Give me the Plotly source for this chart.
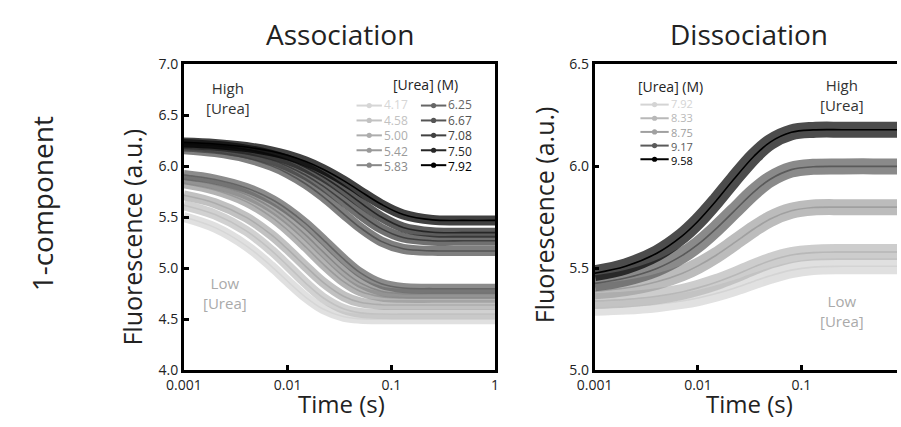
import plotly.graph_objects as go

# ---------------- data ----------------
time_s = [0.001, 0.002, 0.004, 0.007, 0.01, 0.015, 0.022, 0.035, 0.05, 0.08, 0.13, 0.25, 0.5, 1.0]

assoc_urea = ["4.17", "4.58", "5.00", "5.42", "5.83", "6.25", "6.67", "7.08", "7.50", "7.92"]
assoc_4_17 = [5.503, 5.399, 5.221, 5.019, 4.873, 4.715, 4.600, 4.524, 4.505, 4.50, 4.50, 4.50, 4.50, 4.50]
assoc_4_58 = [5.619, 5.527, 5.367, 5.174, 5.026, 4.853, 4.711, 4.600, 4.563, 4.551, 4.55, 4.55, 4.55, 4.55]
assoc_5_00 = [5.716, 5.639, 5.500, 5.327, 5.188, 5.017, 4.863, 4.724, 4.667, 4.643, 4.64, 4.64, 4.64, 4.64]
assoc_5_42 = [5.833, 5.769, 5.654, 5.503, 5.376, 5.209, 5.042, 4.866, 4.775, 4.722, 4.711, 4.71, 4.71, 4.71]
assoc_5_83 = [5.875, 5.821, 5.724, 5.594, 5.480, 5.325, 5.161, 4.969, 4.857, 4.775, 4.752, 4.75, 4.75, 4.75]
assoc_6_25 = [5.915, 5.871, 5.788, 5.677, 5.577, 5.437, 5.281, 5.087, 4.957, 4.848, 4.806, 4.80, 4.80, 4.80]
assoc_6_67 = [6.169, 6.140, 6.084, 6.005, 5.933, 5.827, 5.703, 5.530, 5.400, 5.264, 5.191, 5.171, 5.17, 5.17]
assoc_7_08 = [6.195, 6.172, 6.126, 6.062, 6.002, 5.913, 5.806, 5.653, 5.529, 5.389, 5.302, 5.271, 5.27, 5.27]
assoc_7_50 = [6.220, 6.202, 6.165, 6.113, 6.065, 5.990, 5.898, 5.762, 5.646, 5.503, 5.401, 5.354, 5.35, 5.35]
assoc_7_92 = [6.234, 6.220, 6.190, 6.148, 6.109, 6.048, 5.972, 5.858, 5.757, 5.628, 5.528, 5.475, 5.47, 5.47]
assoc_series = [assoc_4_17, assoc_4_58, assoc_5_00, assoc_5_42, assoc_5_83,
                assoc_6_25, assoc_6_67, assoc_7_08, assoc_7_50, assoc_7_92]

dissoc_urea = ["7.92", "8.33", "8.75", "9.17", "9.58"]
dissoc_7_92 = [5.306, 5.312, 5.324, 5.340, 5.354, 5.376, 5.401, 5.437, 5.463, 5.491, 5.506, 5.51, 5.51, 5.51]
dissoc_8_33 = [5.339, 5.347, 5.363, 5.384, 5.404, 5.432, 5.464, 5.507, 5.537, 5.565, 5.577, 5.58, 5.58, 5.58]
dissoc_8_75 = [5.387, 5.403, 5.434, 5.475, 5.512, 5.564, 5.622, 5.694, 5.742, 5.782, 5.798, 5.80, 5.80, 5.80]
dissoc_9_17 = [5.426, 5.452, 5.499, 5.562, 5.617, 5.695, 5.777, 5.876, 5.937, 5.984, 5.998, 6.00, 6.00, 6.00]
dissoc_9_58 = [5.476, 5.510, 5.574, 5.658, 5.731, 5.831, 5.934, 6.051, 6.119, 6.167, 6.179, 6.18, 6.18, 6.18]
dissoc_series = [dissoc_7_92, dissoc_8_33, dissoc_8_75, dissoc_9_17, dissoc_9_58]

x_tick_vals = [0.001, 0.01, 0.1, 1]
x_tick_text = ["0.001", "0.01", "0.1", "1"]

# ---------------- styles ----------------
assoc_colors = ["#d6d6d6", "#c2c2c2", "#adadad", "#9a9a9a", "#888888",
                "#666666", "#555555", "#414141", "#262626", "#000000"]
dissoc_colors = ["#d4d4d4", "#b8b8b8", "#a0a0a0", "#5a5a5a", "#000000"]
FONT = "Open Sans"
W, H = 901, 427


def px(x):
    return x / W


def py(y):
    return 1 - y / H


fig = go.Figure()

for vals, col in zip(assoc_series, assoc_colors):
    fig.add_trace(go.Scatter(x=time_s, y=vals, mode="lines", xaxis="x", yaxis="y",
                             line=dict(color=col, width=10, shape="spline"), opacity=0.75,
                             showlegend=False, hoverinfo="skip"))
    fig.add_trace(go.Scatter(x=time_s, y=vals, mode="lines", xaxis="x", yaxis="y",
                             line=dict(color=col, width=1.6, shape="spline"), showlegend=False))

for vals, col in zip(dissoc_series, dissoc_colors):
    fig.add_trace(go.Scatter(x=time_s, y=vals, mode="lines", xaxis="x2", yaxis="y2",
                             line=dict(color=col, width=16, shape="spline"), opacity=0.7,
                             showlegend=False, hoverinfo="skip"))
    fig.add_trace(go.Scatter(x=time_s, y=vals, mode="lines", xaxis="x2", yaxis="y2",
                             line=dict(color=col, width=1.6, shape="spline"), showlegend=False))

ydom = [py(377), py(57)]
axis_common = dict(showline=True, linewidth=2.5, linecolor="black", ticks="inside",
                   ticklen=5, tickwidth=2.5, tickcolor="black", showgrid=False, zeroline=False,
                   tickfont=dict(family=FONT, size=14, color="#222"))

fig.update_layout(
    width=W, height=H, margin=dict(l=0, r=0, t=0, b=0),
    paper_bgcolor="white", plot_bgcolor="white", showlegend=False,
    font=dict(family=FONT, color="#222"),
    xaxis=dict(domain=[px(170), px(489)], type="log", range=[-3, 0], anchor="y",
               tickvals=x_tick_vals, ticktext=x_tick_text, mirror=True, **axis_common),
    yaxis=dict(domain=ydom, range=[4, 7], dtick=0.5, tickformat=".1f", anchor="x",
               mirror=True, **axis_common),
    xaxis2=dict(domain=[px(591), 1], type="log", range=[-3, -0.075], anchor="y2",
                tickvals=x_tick_vals, ticktext=x_tick_text, mirror=True, **axis_common),
    yaxis2=dict(domain=ydom, range=[5, 6.5], dtick=0.5, tickformat=".1f", anchor="x2",
                **axis_common),
)

ann = []
shapes = []


def text(x, y, s, size, color="#222", angle=0, xanchor="center"):
    ann.append(dict(x=px(x), y=py(y), xref="paper", yref="paper", text=s, showarrow=False,
                    font=dict(family=FONT, size=size, color=color), textangle=angle,
                    xanchor=xanchor, yanchor="middle", borderpad=0))


text(330, 25, "Association", 28)
text(749, 25, "Dissociation", 28)
text(25, 203, "1-component", 28, angle=-90)
text(117, 238, "Fluorescence (a.u.)", 25, angle=-90)
text(540, 214, "Fluorescence (a.u.)", 25, angle=-90)
text(332, 412, "Time (s)", 24)
text(750, 412, "Time (s)", 24)
text(215, 92, "High<br>[Urea]", 15, "#333")
text(212, 296, "Low<br>[Urea]", 15, "#aaaaaa")
text(845, 89, "High<br>[Urea]", 15, "#333")
text(845, 315, "Low<br>[Urea]", 15, "#aaaaaa")


def legend(x0, y0, labels, colors, size, line_len=26):
    dy = 1.3 * size
    for i, col in enumerate(colors):
        y = y0 + i * dy
        shapes.append(dict(type="line", xref="paper", yref="paper", x0=px(x0), x1=px(x0 + line_len),
                           y0=py(y), y1=py(y), line=dict(color=col, width=2)))
        shapes.append(dict(type="circle", xref="paper", yref="paper", xsizemode="pixel",
                           ysizemode="pixel", xanchor=px(x0 + line_len / 2), yanchor=py(y),
                           x0=-2.6, x1=2.6, y0=-2.6, y1=2.6, fillcolor=col, line=dict(width=0)))
    block = "<br>".join(f"<span style='color:{c}'>{lab}</span>" for lab, c in zip(labels, colors))
    text(x0 + line_len + 1, y0 + dy * (len(labels) - 1) / 2, block, size, xanchor="left")


text(383, 78, "[Urea] (M)", 14, "#222", xanchor="left")
legend(347, 100, assoc_urea[:5], assoc_colors[:5], 12)
legend(413, 100, assoc_urea[5:], assoc_colors[5:], 12)
text(635, 80, "[Urea] (M)", 14, "#222", xanchor="left")
legend(638, 99, dissoc_urea, dissoc_colors, 11, line_len=29)

fig.update_layout(annotations=ann, shapes=shapes)
fig.write_html("out.html")
